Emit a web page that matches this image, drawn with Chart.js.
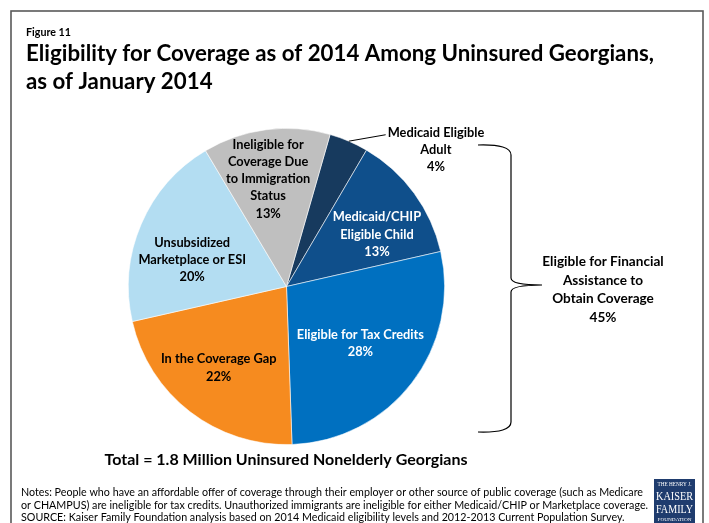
<!DOCTYPE html>
<html><head><meta charset="utf-8">
<script src="https://cdn.jsdelivr.net/npm/chart.js@4.4.1/dist/chart.umd.min.js"></script>
<style>html,body{margin:0;padding:0;background:#fff;overflow:hidden}#wrap{position:relative;width:709px;height:523px}</style>
</head><body><div id="wrap"><canvas id="c" width="709" height="523"></canvas></div>
<script>
// ---- data ----
const categories = ['Medicaid Eligible Adult', 'Medicaid/CHIP Eligible Child', 'Eligible for Tax Credits', 'In the Coverage Gap', 'Unsubsidized Marketplace or ESI', 'Ineligible for Coverage Due to Immigration Status'];
const shares = [4, 13, 28, 22, 20, 13];
const sliceLabels = [['Medicaid Eligible', 'Adult'], ['Medicaid/CHIP', 'Eligible Child'], ['Eligible for Tax Credits'], ['In the Coverage Gap'], ['Unsubsidized', 'Marketplace or ESI'], ['Ineligible for', 'Coverage Due', 'to Immigration', 'Status']];
const groupLines = ['Eligible for Financial', 'Assistance to', 'Obtain Coverage'];
const groupSlices = 3; // first three slices form the bracketed group
const figureLabel = 'Figure 11';
const titleLines = ['Eligibility for Coverage as of 2014 Among Uninsured Georgians,', 'as of January 2014'];
const totalText = 'Total = 1.8 Million Uninsured Nonelderly Georgians';
const notesLines = [
  'Notes: People who have an affordable offer of coverage through their employer or other source of public coverage (such as Medicare',
  'or CHAMPUS) are ineligible for tax credits. Unauthorized immigrants are ineligible for either Medicaid/CHIP or Marketplace coverage.',
  'SOURCE: Kaiser Family Foundation analysis based on 2014 Medicaid eligibility levels and 2012-2013 Current Population Survey.'
];

// ---- styles ----
const sliceColors = ['#173A5E', '#0F4F8B', '#0070C0', '#F68B1F', '#B3DDF2', '#BFBFBF'];
const labelColors = ['#000', '#fff', '#fff', '#000', '#000', '#000'];
const labelPlace = [{da: 24.4, rf: 1.28}, {da: 6.3, rf: 0.66}, {da: 0, rf: 0.59}, {da: 2.2, rf: 0.67}, {da: -7.4, rf: 0.62}, {da: -2.3, rf: 0.69}];
const FONT = 'Lato, "Open Sans", sans-serif';

function scaledText(ctx, text, x, y, targetW, font, align) {
  ctx.save();
  ctx.font = font;
  const w = ctx.measureText(text).width;
  const s = targetW / w;
  ctx.translate(x, y);
  ctx.scale(s, 1);
  ctx.textAlign = align || 'left';
  ctx.fillText(text, 0, 0);
  ctx.restore();
  return s;
}
function textAtScale(ctx, text, x, y, s, font) {
  ctx.save();
  ctx.font = font;
  ctx.translate(x, y);
  ctx.scale(s, 1);
  ctx.textAlign = 'left';
  ctx.fillText(text, 0, 0);
  ctx.restore();
}

const decor = {
  id: 'decor',
  afterDraw(chart) {
    const ctx = chart.ctx;
    ctx.save();
    // frame
    ctx.strokeStyle = '#595959';
    ctx.lineWidth = 1.6;
    ctx.strokeRect(11, 11, 692, 620);

    ctx.fillStyle = '#000';
    ctx.textBaseline = 'alphabetic';
    // figure label and title
    scaledText(ctx, figureLabel, 26, 36, 45, 'bold 11px ' + FONT);
    const s1 = scaledText(ctx, titleLines[0], 26, 61, 628, 'bold 22px ' + FONT);
    textAtScale(ctx, titleLines[1], 26, 89, s1, 'bold 22px ' + FONT);

    // slice labels
    const meta = chart.getDatasetMeta(0);
    const lh = 17.3;
    meta.data.forEach((arc, i) => {
      const p = arc.getProps(['x', 'y', 'startAngle', 'endAngle', 'outerRadius'], true);
      const mid = (p.startAngle + p.endAngle) / 2;
      const a = mid + labelPlace[i].da * Math.PI / 180;
      const r = labelPlace[i].rf * p.outerRadius;
      const px = p.x + Math.cos(a) * r;
      const py = p.y + Math.sin(a) * r;
      const lines = sliceLabels[i].concat([shares[i] + '%']);
      ctx.font = 'bold 12.8px ' + FONT;
      ctx.fillStyle = labelColors[i];
      ctx.textAlign = 'center';
      ctx.textBaseline = 'middle';
      const y0 = py - (lines.length - 1) * lh / 2;
      lines.forEach((t, k) => ctx.fillText(t, px, y0 + k * lh));
      if (labelPlace[i].rf > 1) {
        // leader line from slice edge to label
        const ex = p.x + Math.cos(mid) * p.outerRadius;
        const ey = p.y + Math.sin(mid) * p.outerRadius;
        const w0 = ctx.measureText(lines[0]).width;
        ctx.beginPath();
        ctx.strokeStyle = '#000';
        ctx.lineWidth = 1;
        ctx.moveTo(ex, ey);
        ctx.lineTo(px - w0 / 2 - 2, y0 + 2);
        ctx.stroke();
      }
    });

    // brace for the group
    ctx.beginPath();
    ctx.strokeStyle = '#000';
    ctx.lineWidth = 1.2;
    ctx.moveTo(478, 145);
    ctx.quadraticCurveTo(511, 144, 511, 155);
    ctx.lineTo(511, 278);
    ctx.quadraticCurveTo(511, 285, 542, 285);
    ctx.quadraticCurveTo(511, 285, 511, 292);
    ctx.lineTo(511, 422);
    ctx.quadraticCurveTo(511, 433, 478, 432);
    ctx.stroke();

    const groupTotal = shares.slice(0, groupSlices).reduce((a, b) => a + b, 0);
    const gl = groupLines.concat([groupTotal + '%']);
    ctx.font = 'bold 13.6px ' + FONT;
    ctx.fillStyle = '#000';
    ctx.textAlign = 'center';
    ctx.textBaseline = 'middle';
    gl.forEach((t, k) => ctx.fillText(t, 603, 262 + k * 18.5));

    // total
    ctx.textBaseline = 'alphabetic';
    scaledText(ctx, totalText, 286, 465, 363, 'bold 16px ' + FONT, 'center');

    // notes
    ctx.fillStyle = '#000';
    const sn = scaledText(ctx, notesLines[0], 21, 496, 622, '12px ' + FONT);
    textAtScale(ctx, notesLines[1], 21, 508.5, sn, '12px ' + FONT);
    textAtScale(ctx, notesLines[2], 21, 521, sn, '12px ' + FONT);

    // logo
    ctx.fillStyle = '#1F3C6E';
    ctx.fillRect(654, 479, 41, 50);
    ctx.fillStyle = '#fff';
    scaledText(ctx, 'THE HENRY J.', 674.5, 486, 34, '5.5px "Liberation Serif", serif', 'center');
    scaledText(ctx, 'KAISER', 674.5, 500, 37, '13px "Liberation Serif", serif', 'center');
    scaledText(ctx, 'FAMILY', 674.5, 513, 37, '13px "Liberation Serif", serif', 'center');
    scaledText(ctx, 'FOUNDATION', 674.5, 520.5, 34, '4.5px "Liberation Serif", serif', 'center');
    ctx.restore();
  }
};

new Chart(document.getElementById('c'), {
  type: 'pie',
  data: {
    labels: categories,
    datasets: [{
      data: shares,
      backgroundColor: sliceColors,
      borderColor: 'rgba(255,255,255,0.7)',
      borderWidth: 0.8
    }]
  },
  options: {
    responsive: false,
    animation: false,
    rotation: 16,
    layout: {padding: {left: 128, right: 264, top: 128, bottom: 78}},
    plugins: {legend: {display: false}, tooltip: {enabled: false}}
  },
  plugins: [decor]
});
</script>
</body></html>
